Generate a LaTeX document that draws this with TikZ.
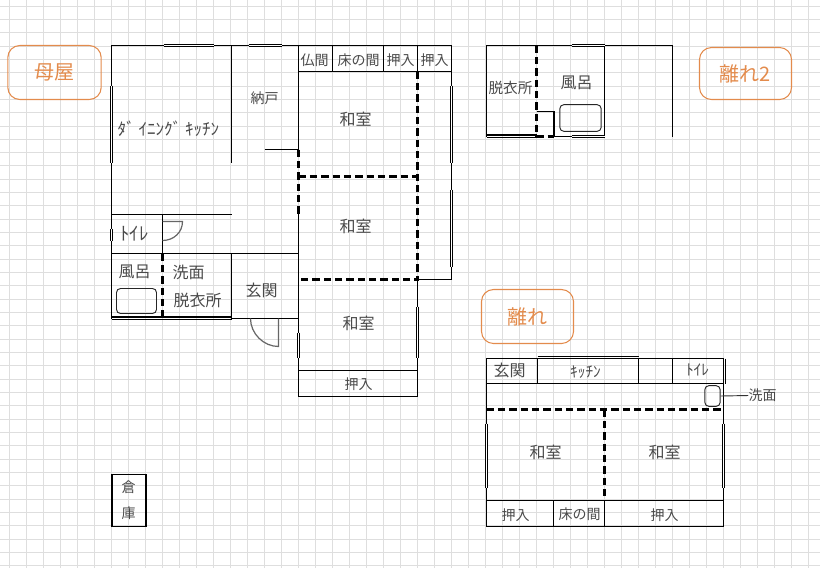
\documentclass[tikz,border=0pt]{standalone}
\usepackage{fontspec}
\usepackage{xcolor}
\setmainfont{Noto Sans CJK JP}
\definecolor{gridgray}{HTML}{DEDEDE}
\definecolor{labelorange}{HTML}{E38B4C}
\definecolor{roomtext}{HTML}{4A4A4A}
\tikzset{
	wall/.style={draw=black,line width=0.8pt},
	partition/.style={draw=black,line width=2.1pt,dash pattern=on 5.5pt off 3pt},
	window/.style={draw=black,line width=2.2pt,postaction={draw=white,line width=0.8pt}},
	doorleaf/.style={draw=black!60,line width=0.9pt},
	roomlabel/.style={text=roomtext,font=\fontsize{12}{12}\selectfont,inner sep=0pt},
	smalllabel/.style={text=roomtext,font=\fontsize{10.5}{10.5}\selectfont,inner sep=0pt},
	wingtag/.style={draw=labelorange,line width=0.8pt,rounded corners=9pt,text=labelorange,font=\fontsize{15}{15}\selectfont,inner sep=0pt},
	fixture/.style={draw=black!85,line width=0.7pt,rounded corners=3pt,inner sep=0pt}
}
\begin{document}
\begin{tikzpicture}[x=0.75pt,y=-0.75pt]
	\useasboundingbox (0,0) rectangle (820,568);
	% grid paper
	\foreach \gx in {0,...,47}
		\draw[gridgray,line width=0.7pt] ({9.3+17*\gx},0) -- ({9.3+17*\gx},568);
	\foreach \gy in {0,...,42}
		\draw[gridgray,line width=0.7pt] (0,{6+13.33*\gy}) -- (820,{6+13.33*\gy});

	\begin{scope}[shift={(0.5,0.5)}]
	% wing tags
	\node(tagmain)[wingtag,minimum width=70pt,minimum height=40.5pt] at (54,72) {母屋};
	\node(tagbath)[wingtag,minimum width=69pt,minimum height=39pt] at (745,73) {離れ2};
	\node(tagannex)[wingtag,minimum width=69pt,minimum height=40.5pt] at (527,316) {離れ};

	% main house walls
	\draw[wall] (111,318) -- (111,45) -- (451,45) -- (451,279) -- (417,279);
	\draw[wall] (231,45) -- (231,162);
	\draw[wall] (264,149) -- (298,149);
	\draw[wall] (298,45) -- (298,149);
	\draw[wall] (298,213) -- (298,396) -- (417,396) -- (417,279);
	\draw[wall] (298,71) -- (451,71);
	\draw[wall] (332,45) -- (332,71);
	\draw[wall] (383,45) -- (383,71);
	\draw[wall] (417,45) -- (417,71);
	\draw[wall] (298,370) -- (417,370);
	\draw[wall] (111,214) -- (231,214);
	\draw[wall] (162,214) -- (162,253);
	\draw[wall] (111,253) -- (298,253);
	\draw[wall] (231,253) -- (231,318) -- (298,318);
	\draw[wall] (111,316.5) -- (231,316.5);
	\draw[wall] (111,319) -- (231,319);

	% main house sliding partitions
	\draw[partition] (298,149) -- (298,213);
	\draw[partition] (298,176) -- (417,176);
	\draw[partition] (417,71) -- (417,279) -- (298,279);
	\draw[partition] (162,253) -- (162,316);

	% main house windows
	\draw[window] (163,45) -- (213,45);
	\draw[window] (248,45) -- (281,45);
	\draw[window] (111,85) -- (111,162);
	\draw[window] (111,228) -- (111,240);
	\draw[window] (451,85) -- (451,162);
	\draw[window] (451,189) -- (451,266);
	\draw[window] (417,306) -- (417,357);
	\draw[window] (298,332) -- (298,357);

	% doors
	\draw[doorleaf] (162,221) -- (182,221) .. controls (182,232) and (173,240) .. (162,240);
	\draw[doorleaf] (278,318) -- (278,346) .. controls (263,346) and (250,333) .. (250,318);

	% main house rooms
	\node(dining)[roomlabel,font=\fontsize{12.8}{12.8}\selectfont] at (168,128) {ﾀﾞ ｲﾆﾝｸﾞ ｷｯﾁﾝ};
	\node(nando)[smalllabel] at (264,98) {納戸};
	\node(butsuma)[smalllabel] at (314,60) {仏間};
	\node(tokonoma)[smalllabel] at (358,60) {床の間};
	\node(oshiirea)[smalllabel] at (400,60) {押入};
	\node(oshiireb)[smalllabel] at (434,60) {押入};
	\node(washitsua)[roomlabel] at (355,119) {和室};
	\node(washitsub)[roomlabel] at (355,226) {和室};
	\node(washitsuc)[roomlabel] at (358,323) {和室};
	\node(oshiirec)[smalllabel] at (358,384) {押入};
	\node(toilet)[roomlabel,font=\fontsize{14}{14}\selectfont] at (134,233) {ﾄｲﾚ};
	\node(bath)[roomlabel] at (134,271) {風呂};
	\node(senmen)[roomlabel] at (188,272) {洗面};
	\node(datsui)[roomlabel] at (197,300) {脱衣所};
	\node(genkan)[roomlabel] at (261,290) {玄関};
	\node(tub)[fixture,minimum width=30pt,minimum height=18.75pt] at (136,300.5) {};

	% storehouse
	\draw[wall] (111.5,474) rectangle (145.5,526);
	\node(sou)[smalllabel] at (128,487) {倉};
	\node(ko)[smalllabel] at (128,513) {庫};

	% bath wing
	\draw[wall] (672,136) -- (672,45) -- (486,45) -- (486,136);
	\draw[wall] (486,134.5) -- (536,134.5);
	\draw[wall] (486,137) -- (536,137);
	\draw[wall] (536,111) -- (553.5,111) -- (553.5,136) -- (604,136) -- (604,45);
	\draw[partition] (536,45) -- (536,136) -- (553.5,136);
	\draw[window] (571,45) -- (604,45);
	\draw[window] (571,136) -- (604,136);
	\node(datsuib)[smalllabel,font=\fontsize{11}{11}\selectfont] at (510,87) {脱衣所};
	\node(bathb)[roomlabel] at (576,82) {風呂};
	\node(tubb)[fixture,minimum width=31pt,minimum height=20pt] at (580,117.5) {};

	% annex
	\draw[wall] (486,358) rectangle (723,526);
	\draw[wall] (486,383) -- (723,383);
	\draw[wall] (537,358) -- (537,383);
	\draw[wall] (638,358) -- (638,383);
	\draw[wall] (672,358) -- (672,383);
	\draw[wall] (537,356) -- (638,356);
	\draw[wall] (725,358) -- (725,383);
	\draw[wall] (486,500) -- (723,500);
	\draw[wall] (553,500) -- (553,526);
	\draw[wall] (604,500) -- (604,526);
	\draw[partition] (486,409) -- (723,409);
	\draw[partition] (604,409) -- (604,500);
	\draw[window] (486,423) -- (486,487);
	\draw[window] (723,423) -- (723,487);
	\node(genkanb)[roomlabel] at (509,370) {玄関};
	\node(kitchen)[smalllabel,font=\fontsize{11.5}{11.5}\selectfont] at (585,372) {ｷｯﾁﾝ};
	\node(toiletb)[smalllabel,font=\fontsize{11.5}{11.5}\selectfont] at (697,369) {ﾄｲﾚ};
	\node(washitsud)[roomlabel] at (545,452) {和室};
	\node(washitsue)[roomlabel] at (664,452) {和室};
	\node(oshiired)[smalllabel] at (515,515) {押入};
	\node(tokonomab)[smalllabel] at (579,514) {床の間};
	\node(oshiiree)[smalllabel] at (664,515) {押入};
	\node(sink)[fixture,minimum width=11.5pt,minimum height=15.5pt] at (712,395.5) {};
	\node(senmenb)[smalllabel] at (762,395) {洗面};
	\draw[draw=black!80,line width=0.7pt] (sink.east) -- (senmenb.west);
	\end{scope}
\end{tikzpicture}
\end{document}
